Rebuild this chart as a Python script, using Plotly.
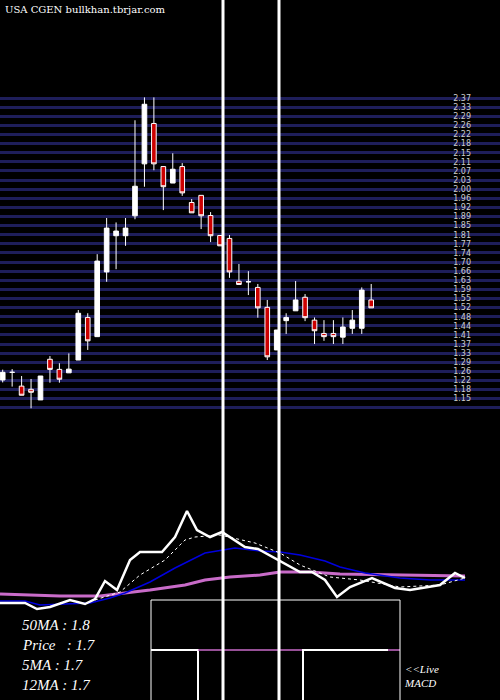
import plotly.graph_objects as go

# candles (index 0..39), prices
opens  = [1.222, 1.253, 1.197, 1.184, 1.141, 1.306, 1.265, 1.251, 1.303, 1.476,
          1.398, 1.661, 1.808, 1.808, 1.889, 2.100, 2.264, 2.089, 2.022, 2.089,
          1.943, 1.972, 1.890, 1.809, 1.797, 1.623, 1.621, 1.598, 1.517, 1.344,
          1.463, 1.503, 1.558, 1.465, 1.411, 1.411, 1.396, 1.432, 1.432, 1.547]
closes = [1.253, 1.253, 1.160, 1.172, 1.238, 1.265, 1.225, 1.266, 1.493, 1.381,
          1.705, 1.839, 1.827, 1.839, 2.009, 2.342, 2.100, 2.007, 2.078, 1.982,
          1.901, 1.889, 1.808, 1.767, 1.661, 1.610, 1.621, 1.515, 1.316, 1.425,
          1.476, 1.547, 1.475, 1.422, 1.398, 1.398, 1.437, 1.465, 1.587, 1.515]
highs  = [1.264, 1.266, 1.238, 1.226, 1.238, 1.319, 1.290, 1.330, 1.506, 1.493,
          1.733, 1.880, 1.862, 1.880, 2.277, 2.370, 2.370, 2.089, 2.143, 2.103,
          1.957, 1.972, 1.904, 1.811, 1.811, 1.693, 1.664, 1.612, 1.547, 1.425,
          1.493, 1.624, 1.571, 1.476, 1.465, 1.465, 1.476, 1.506, 1.598, 1.612]
lows   = [1.212, 1.195, 1.160, 1.107, 1.141, 1.211, 1.211, 1.251, 1.303, 1.344,
          1.398, 1.621, 1.672, 1.767, 1.875, 2.007, 2.074, 1.912, 2.022, 1.970,
          1.901, 1.835, 1.782, 1.767, 1.637, 1.610, 1.567, 1.475, 1.303, 1.344,
          1.409, 1.503, 1.461, 1.368, 1.381, 1.368, 1.368, 1.409, 1.409, 1.515]
idx = list(range(len(opens)))

# lower panel indicator lines (x, y in panel units)
price_x = [0, 25, 37, 50, 70, 85, 95, 105, 117, 130, 140, 162, 175, 187, 197, 210, 222,
           245, 258, 282, 300, 312, 325, 337, 350, 372, 395, 410, 440, 455, 465]
price_y = [603, 603, 609, 607, 600, 604, 599, 581, 590, 560, 552, 552, 537, 511, 530, 537, 532,
           547, 549, 562, 572, 572, 580, 597, 587, 578, 588, 590, 585, 573, 578]
ma5_x = [95, 120, 140, 165, 185, 195, 220, 255, 280, 300, 330, 360, 400, 440, 465]
ma5_y = [600, 592, 575, 560, 540, 537, 535, 543, 553, 565, 577, 580, 587, 585, 578]
ma12_x = [0, 25, 40, 60, 90, 110, 125, 150, 175, 205, 235, 260, 280, 300, 325, 340, 365, 400, 430, 465]
ma12_y = [601, 601, 605, 604, 603, 598, 593, 582, 568, 553, 548, 551, 552, 555, 561, 567, 573, 578, 580, 580]
ma50_x = [0, 30, 60, 100, 125, 150, 185, 205, 230, 260, 280, 310, 340, 400, 465]
ma50_y = [594, 595, 596, 596, 593, 590, 585, 580, 577, 575, 572, 572, 574, 575, 576]

labels = ["50MA : 1.8", "Price   : 1.7", "5MA : 1.7", "12MA : 1.7"]

fig = go.Figure()

fig.add_trace(go.Candlestick(
    x=idx, open=opens, high=highs, low=lows, close=closes,
    increasing=dict(line=dict(color="white", width=1), fillcolor="white"),
    decreasing=dict(line=dict(color="white", width=1), fillcolor="#cc0000"),
    whiskerwidth=0, showlegend=False, xaxis="x", yaxis="y"))

# lower panel (pixel-like axes)
fig.add_trace(go.Scatter(x=ma50_x, y=ma50_y, mode="lines", line=dict(color="#c86bc8", width=3),
                         xaxis="x2", yaxis="y2", showlegend=False))
fig.add_trace(go.Scatter(x=ma12_x, y=ma12_y, mode="lines", line=dict(color="#0000dd", width=1.5),
                         xaxis="x2", yaxis="y2", showlegend=False))
fig.add_trace(go.Scatter(x=ma5_x, y=ma5_y, mode="lines", line=dict(color="white", width=1, dash="dot"),
                         xaxis="x2", yaxis="y2", showlegend=False))
fig.add_trace(go.Scatter(x=price_x, y=price_y, mode="lines", line=dict(color="white", width=2.5),
                         xaxis="x2", yaxis="y2", showlegend=False))

# MACD box
fig.add_trace(go.Scatter(x=[151, 198, 198], y=[650, 650, 700], mode="lines",
                         line=dict(color="white", width=2), xaxis="x2", yaxis="y2", showlegend=False))
fig.add_trace(go.Scatter(x=[198, 303], y=[650, 650], mode="lines",
                         line=dict(color="#c86bc8", width=1.5), xaxis="x2", yaxis="y2", showlegend=False))
fig.add_trace(go.Scatter(x=[303, 303, 388], y=[700, 650, 650], mode="lines",
                         line=dict(color="white", width=2), xaxis="x2", yaxis="y2", showlegend=False))
fig.add_trace(go.Scatter(x=[388, 400], y=[650, 650], mode="lines",
                         line=dict(color="#c86bc8", width=1.5), xaxis="x2", yaxis="y2", showlegend=False))

shapes = [
    dict(type="rect", xref="x2", yref="y2", x0=151, x1=400, y0=600, y1=701,
         line=dict(color="white", width=1)),
    dict(type="line", xref="paper", yref="paper", x0=223 / 500, x1=223 / 500, y0=0, y1=1,
         line=dict(color="white", width=3)),
    dict(type="line", xref="paper", yref="paper", x0=279 / 500, x1=279 / 500, y0=0, y1=1,
         line=dict(color="white", width=3)),
]

ann = [dict(text="USA CGEN bullkhan.tbrjar.com", x=3 / 500, y=1 - 10 / 700, xref="paper", yref="paper",
            xanchor="left", yanchor="middle", showarrow=False,
            font=dict(family="DejaVu Serif", size=10, color="white"))]
for k, t in enumerate(labels):
    ann.append(dict(text="<i>" + t + "</i>", x=20, y=625 + 20 * k, xref="x2", yref="y2",
                    xanchor="left", yanchor="middle", showarrow=False,
                    font=dict(family="Liberation Serif", size=15, color="white")))
ann.append(dict(text="<i><<Live<br>MACD</i>", x=402, y=676, xref="x2", yref="y2",
                xanchor="left", yanchor="middle", showarrow=False, align="left",
                font=dict(family="Liberation Serif", size=11, color="white")))

fig.update_layout(
    width=500, height=700, margin=dict(l=0, r=0, t=0, b=0),
    paper_bgcolor="black", plot_bgcolor="rgba(0,0,0,0)",
    shapes=shapes, annotations=ann,
    xaxis=dict(range=[-0.286, 52.63], domain=[0, 1], visible=False, rangeslider=dict(visible=False)),
    yaxis=dict(range=[1.10, 2.40], domain=[1 - 410 / 700, 1 - 90 / 700], side="right",
               anchor="free", position=0.948,
               tick0=2.367, dtick=0.037, tickformat=".2f", ticks="", ticklabelposition="inside",
               showgrid=True, gridcolor="#1e1e5a", gridwidth=3, zeroline=False, showline=False,
               tickfont=dict(family="DejaVu Sans", size=8, color="#cccccc")),
    xaxis2=dict(range=[0, 500], domain=[0, 1], anchor="y2", visible=False),
    yaxis2=dict(range=[700, 500], domain=[0, 200 / 700], anchor="x2", visible=False),
)

fig.write_html("out.html", config={"displayModeBar": False},
               post_script="document.body.style.margin='0';document.body.style.background='black';")
